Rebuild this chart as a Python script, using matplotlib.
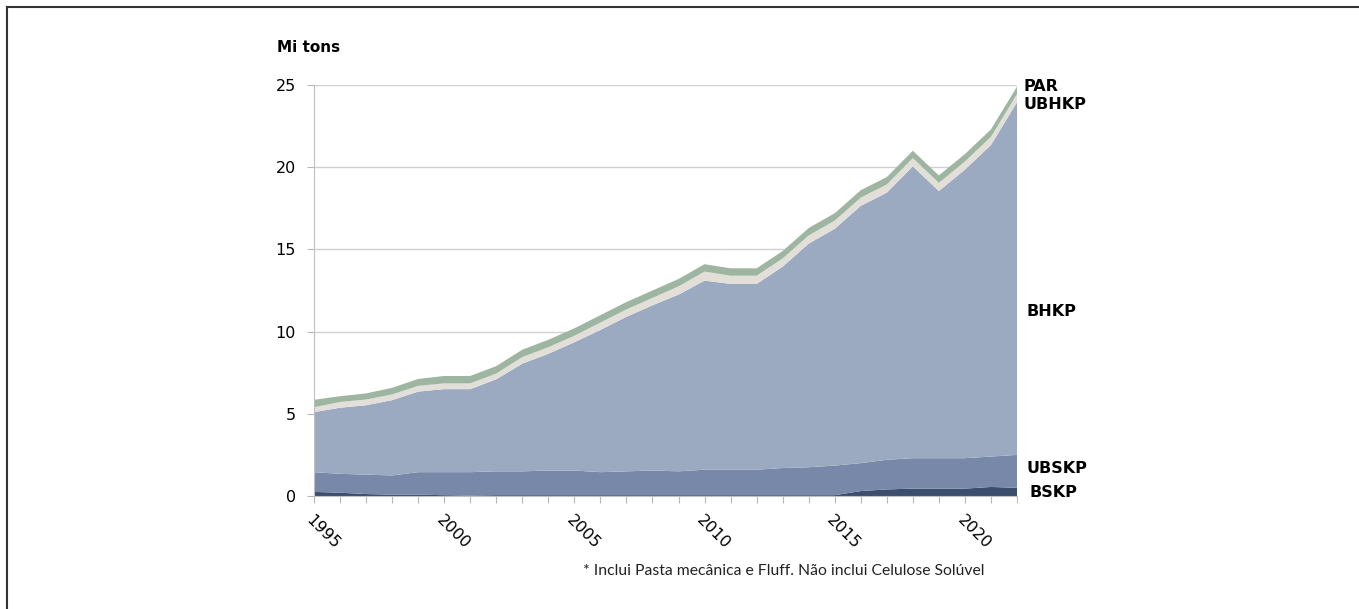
import numpy as np
import matplotlib
matplotlib.use('Agg')
import matplotlib.pyplot as plt
from matplotlib.lines import Line2D

# data (Mi tons)
anos = list(range(1995, 2023))
bskp = [0.25, 0.2, 0.12, 0.08, 0.08, 0.05, 0.03, 0.05, 0.05, 0.05, 0.05, 0.05, 0.05, 0.05,
        0.05, 0.05, 0.05, 0.05, 0.05, 0.05, 0.05, 0.3, 0.4, 0.45, 0.45, 0.45, 0.55, 0.5]
ubskp = [1.2, 1.15, 1.18, 1.17, 1.37, 1.4, 1.42, 1.45, 1.45, 1.5, 1.5, 1.4, 1.45, 1.5,
         1.45, 1.55, 1.55, 1.55, 1.65, 1.7, 1.8, 1.7, 1.8, 1.85, 1.85, 1.85, 1.85, 2.0]
bhkp = [3.65, 4.02, 4.22, 4.58, 4.9, 5.05, 5.05, 5.6, 6.55, 7.1, 7.8, 8.65, 9.4, 10.05,
        10.75, 11.5, 11.3, 11.3, 12.25, 13.6, 14.4, 15.65, 16.25, 17.75, 16.25, 17.55, 18.95, 21.45]
ubhkp = [0.3, 0.35, 0.35, 0.35, 0.35, 0.35, 0.35, 0.35, 0.4, 0.4, 0.4, 0.45, 0.45, 0.45,
         0.5, 0.55, 0.5, 0.5, 0.5, 0.5, 0.5, 0.5, 0.5, 0.5, 0.5, 0.5, 0.5, 0.5]
par = [0.45, 0.35, 0.37, 0.4, 0.42] + [0.45] * 23
nomes = ['BSKP', 'UBSKP', 'BHKP', 'UBHKP', 'PAR']
cores = ['#3b4e6d', '#7788a8', '#9caac1', '#e2dfd8', '#9db5a1']

fig = plt.figure(figsize=(13.59, 6.09), dpi=100)
ax = fig.add_axes([314/1359, 1-496/609, 703/1359, 411/609])

ax.stackplot(anos, bskp, ubskp, bhkp, ubhkp, par, colors=cores, linewidth=0, zorder=2)

ax.set_xlim(1995, 2022)
ax.set_ylim(0, 25)
ax.set_yticks([0, 5, 10, 15, 20, 25])
ax.yaxis.grid(True, color='#d0d0d0', linewidth=1, zorder=0)
ax.set_axisbelow(True)
ax.set_xticks(anos)
ax.set_xticklabels([str(a) if a % 5 == 0 else '' for a in anos],
                   rotation=-45, ha='left', va='top', rotation_mode='anchor', fontsize=11.5)
ax.tick_params(axis='x', length=5, color='#b8b8b8', pad=7)
ax.tick_params(axis='y', length=5, color='#b8b8b8', labelsize=11.5, pad=8)
for s in ['top', 'right']:
    ax.spines[s].set_visible(False)
for s in ['left', 'bottom']:
    ax.spines[s].set_color('#c0c0c0')

# labels on the right
pos = [(13, 0.2), (10, 1.7), (10, 11.25), (7, 23.8), (7, 24.9)]
for nome, (dx, y) in zip(nomes, pos):
    ax.annotate(nome, xy=(2022, y), xytext=(dx*0.72, 0), textcoords='offset points',
                ha='left', va='center', fontsize=11.5, fontweight='bold', annotation_clip=False)

fig.text(277/1359, 1-47/609, 'Mi tons', fontsize=11, fontweight='bold', ha='left', va='center')
fig.text(583/1359, 1-571/609, '* Inclui Pasta mecânica e Fluff. Não inclui Celulose Solúvel',
         fontsize=11.3, family='Lato', ha='left', va='center', color='#222222')

# frame around the figure
fig.add_artist(Line2D([7/1359, 7/1359], [0, 1-7/609], transform=fig.transFigure, color='#333333', lw=1.5))
fig.add_artist(Line2D([7/1359, 1], [1-7/609, 1-7/609], transform=fig.transFigure, color='#333333', lw=1.5))

fig.savefig('out.png', dpi=100)
